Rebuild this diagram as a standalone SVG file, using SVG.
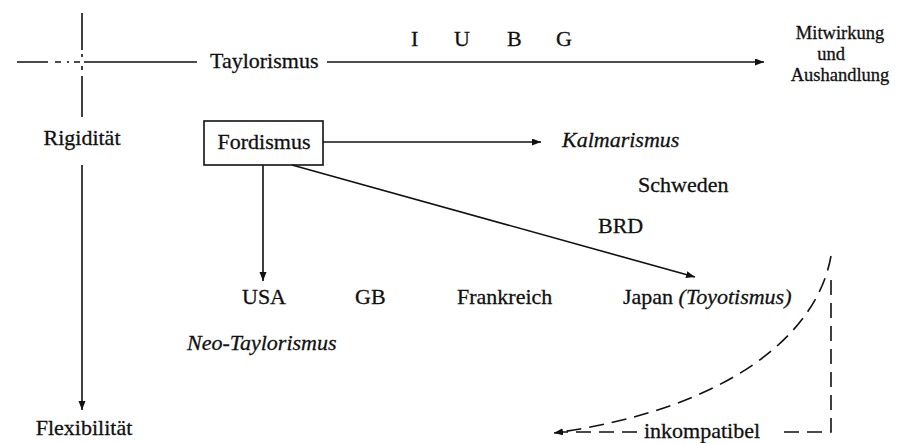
<svg xmlns="http://www.w3.org/2000/svg" width="902" height="443" viewBox="0 0 902 443">
<style>
text{font-family:"Liberation Serif","Times New Roman",serif;font-size:22px;fill:#111;stroke:#111;stroke-width:0.3}
.it{font-style:italic}
.sm{font-size:18.5px}
.ln{stroke:#111;stroke-width:1.6;fill:none}
.ds{stroke:#111;stroke-width:1.6;fill:none;stroke-dasharray:15 8}
.mid{text-anchor:middle}
</style>
<defs>
<marker id="ah" markerUnits="userSpaceOnUse" markerWidth="10" markerHeight="8" refX="9" refY="3.5" orient="auto">
<path d="M0,0 L9,3.5 L0,7 z" fill="#111"/>
</marker>
</defs>
<g id="axes">
<path class="ln" d="M82,13 V50 M82,54 V57 M82,66 V70 M82,76 V117"/>
<path class="ln" d="M82,165 V410" marker-end="url(#ah)"/>
<path class="ln" d="M17,62 H48 M55,62 H61 M67,62 H69 M74,62 H80 M84,62 H197"/>
<path class="ln" d="M327,62 H764" marker-end="url(#ah)"/>
</g>
<g id="connectors">
<path class="ln" d="M323,142 H541" marker-end="url(#ah)"/>
<path class="ln" d="M263,165 V281" marker-end="url(#ah)"/>
<path class="ln" d="M292,165 L695,277" marker-end="url(#ah)"/>
<path class="ds" d="M831,256 C816,340 720,410 554,433" marker-end="url(#ah)"/>
<path class="ds" d="M831,280 V432 H783"/>
<path class="ds" d="M637,432 H562"/>
</g>
<g id="n-taylorismus"><text x="210" y="68">Taylorismus</text></g>
<g id="n-iubg">
<text x="411" y="46">I</text>
<text x="454" y="46">U</text>
<text x="507" y="46">B</text>
<text x="556" y="46">G</text>
</g>
<g id="n-mitwirkung">
<text class="mid sm" x="840" y="39">Mitwirkung</text>
<text class="mid sm" x="831" y="60">und</text>
<text class="mid sm" x="840" y="81">Aushandlung</text>
</g>
<g id="n-rigiditaet"><text class="mid" x="82" y="145">Rigidität</text></g>
<g id="n-flexibilitaet"><text class="mid" x="84" y="435">Flexibilität</text></g>
<g id="n-fordismus">
<rect x="204" y="121" width="119" height="44" fill="none" stroke="#111" stroke-width="1.6"/>
<text class="mid" x="264" y="149">Fordismus</text>
</g>
<g id="n-kalmarismus"><text class="it" x="562" y="147">Kalmarismus</text></g>
<g id="n-schweden"><text x="638" y="192">Schweden</text></g>
<g id="n-brd"><text x="598" y="233">BRD</text></g>
<g id="n-usa"><text x="242" y="304">USA</text></g>
<g id="n-gb"><text x="355" y="304">GB</text></g>
<g id="n-frankreich"><text x="457" y="304">Frankreich</text></g>
<g id="n-japan"><text x="623" y="304">Japan <tspan class="it">(Toyotismus)</tspan></text></g>
<g id="n-neotaylorismus"><text class="it" x="187" y="350">Neo-Taylorismus</text></g>
<g id="n-inkompatibel"><text x="644" y="438">inkompatibel</text></g>
</svg>
